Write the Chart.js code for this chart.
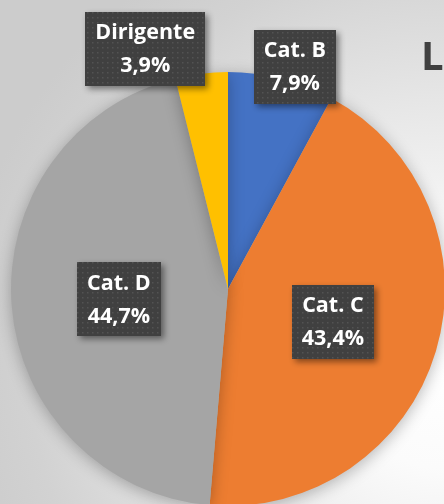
<!DOCTYPE html>
<html>
<head>
<meta charset="utf-8">
<script src="https://cdn.jsdelivr.net/npm/chart.js@4.4.1/dist/chart.umd.min.js"></script>
<style>
  html, body { margin: 0; padding: 0; width: 444px; height: 504px; overflow: hidden; }
  body { background: radial-gradient(ellipse 110% 95% at 100% 72%, #ffffff 0%, #fbfbfb 22%, #e6e6e6 55%, #d2d2d2 85%, #cccccc 100%); }
  #wrap { position: absolute; left: 0; top: 0; width: 456px; height: 578px; }
</style>
</head>
<body>
<div id="wrap"><canvas id="c"></canvas></div>
<script>
const categories = ["Cat. B", "Cat. C", "Cat. D", "Dirigente"];
const values = [7.9, 43.4, 44.7, 3.9];
const valueLabels = ["7,9%", "43,4%", "44,7%", "3,9%"];
const colors = ["#4472C4", "#ED7D31", "#A5A5A5", "#FFC000"];
const titleText = "L";

// label placement relative to each slice: [radius factor, angle offset in degrees]
const labelPlacement = [[1.07, 2.5], [0.507, 0.9], [0.505, -0.9], [1.17, -12]];

function makePattern(ctx) {
  const t = document.createElement('canvas');
  t.width = 5; t.height = 5;
  const g = t.getContext('2d');
  g.fillStyle = '#404040';
  g.fillRect(0, 0, 5, 5);
  g.fillStyle = '#535353';
  g.fillRect(2, 2, 1.5, 1.5);
  return ctx.createPattern(t, 'repeat');
}

const shadowPlugin = {
  id: 'pieShadow',
  beforeDatasetsDraw(chart) {
    const ctx = chart.ctx;
    ctx.save();
    ctx.shadowColor = 'rgba(0,0,0,0.28)';
    ctx.shadowBlur = 16;
    ctx.shadowOffsetX = 0;
    ctx.shadowOffsetY = 3;
  },
  afterDatasetsDraw(chart) {
    chart.ctx.restore();
  }
};

const labelPlugin = {
  id: 'boxLabels',
  afterDraw(chart) {
    const ctx = chart.ctx;
    const meta = chart.getDatasetMeta(0);
    const pattern = makePattern(ctx);
    ctx.save();
    ctx.font = '700 21.5px "Open Sans"';
    meta.data.forEach((arc, i) => {
      const p = arc.getProps(['x', 'y', 'startAngle', 'endAngle', 'outerRadius'], true);
      const [f, off] = labelPlacement[i];
      const mid = (p.startAngle + p.endAngle) / 2 + off * Math.PI / 180;
      const cx = p.x + Math.cos(mid) * p.outerRadius * f;
      const cy = p.y + Math.sin(mid) * p.outerRadius * f;
      const l1 = categories[i], l2 = valueLabels[i];
      const w = Math.max(ctx.measureText(l1).width, ctx.measureText(l2).width) + 20;
      const h = 74;
      ctx.save();
      ctx.shadowColor = 'rgba(0,0,0,0.45)';
      ctx.shadowBlur = 6;
      ctx.shadowOffsetX = 3;
      ctx.shadowOffsetY = 3;
      ctx.fillStyle = pattern;
      ctx.fillRect(Math.round(cx - w / 2), Math.round(cy - h / 2), Math.round(w), h);
      ctx.restore();
      ctx.fillStyle = '#ffffff';
      ctx.textAlign = 'center';
      ctx.textBaseline = 'middle';
      ctx.fillText(l1, cx, cy - 16);
      ctx.fillText(l2, cx, cy + 17);
    });
    ctx.fillStyle = '#404040';
    ctx.font = '700 40px "Open Sans"';
    ctx.textAlign = 'left';
    ctx.textBaseline = 'alphabetic';
    ctx.fillText(titleText, 421, 70);
    ctx.restore();
  }
};

new Chart(document.getElementById('c'), {
  type: 'pie',
  data: {
    labels: categories,
    datasets: [{
      data: values,
      backgroundColor: colors,
      borderWidth: 0,
      hoverOffset: 0
    }]
  },
  options: {
    responsive: true,
    maintainAspectRatio: false,
    animation: false,
    layout: { padding: { left: 11, right: 11, top: 72, bottom: 72 } },
    plugins: { legend: { display: false }, tooltip: { enabled: false }, title: { display: false } },
    events: []
  },
  plugins: [shadowPlugin, labelPlugin]
});
</script>
</body>
</html>
